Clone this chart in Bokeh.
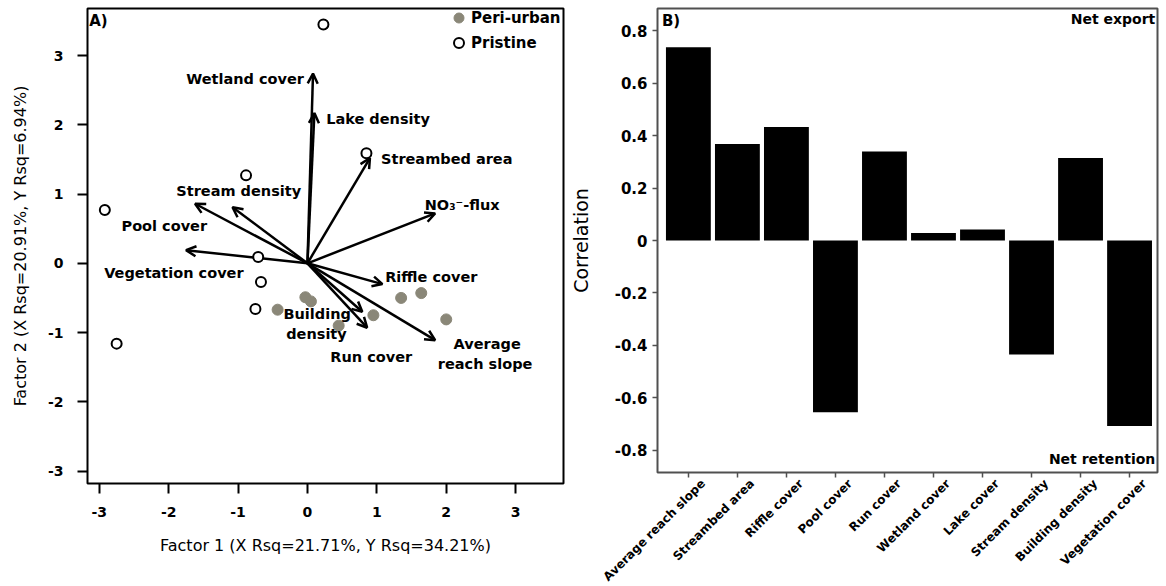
import math
from bokeh.plotting import figure
from bokeh.models import (ColumnDataSource, Arrow, OpenHead, Label, FixedTicker,
                          Range1d, Legend, LegendItem)
from bokeh.layouts import row
from bokeh.embed import file_html
from bokeh.resources import INLINE

# ---------------- Panel A data (biplot) ----------------
peri_x = [-0.43, -0.03, 0.05, 0.45, 0.95, 1.35, 1.64, 2.00]
peri_y = [-0.67, -0.49, -0.55, -0.90, -0.75, -0.50, -0.43, -0.81]
pristine_x = [0.23, 0.85, -0.885, -2.92, -0.71, -0.67, -0.75, -2.75]
pristine_y = [3.45, 1.59, 1.27, 0.77, 0.09, -0.27, -0.66, -1.16]

vector_names = ["Wetland cover", "Lake density", "Streambed area", "NO3-flux",
                "Stream density", "Pool cover", "Vegetation cover", "Riffle cover",
                "Building density", "Run cover", "Average reach slope"]
vector_x = [0.08, 0.10, 0.90, 1.84, -1.08, -1.62, -1.75, 1.08, 0.79, 0.86, 1.84]
vector_y = [2.74, 2.17, 1.52, 0.72, 0.81, 0.86, 0.19, -0.30, -0.70, -0.93, -1.11]

# text labels for the vectors
label_text = ["Wetland cover", "Lake density", "Streambed area", "NO\u2083\u207b-flux",
              "Stream density", "Pool cover", "Vegetation cover", "Riffle cover",
              "Building", "density", "Run cover", "Average", "reach slope"]
label_x = [-0.05, 0.27, 1.06, 1.69, -1.89, -2.68, -2.93, 1.12, 0.14, 0.13, 0.33, 2.59, 2.56]
label_y = [2.66, 2.09, 1.50, 0.84, 1.05, 0.54, -0.145, -0.20, -0.73, -1.02, -1.36, -1.16, -1.45]
label_align = ["right", "left", "left", "left", "left", "left", "left", "left",
               "center", "center", "left", "center", "center"]

a_ticks = [-3, -2, -1, 0, 1, 2, 3]
a_tick_labels = ["-3", "-2", "-1", "0", "1", "2", "3"]

# ---------------- Panel B data (bars) ----------------
categories = ["Average reach slope", "Streambed area", "Riffle cover", "Pool cover",
              "Run cover", "Wetland cover", "Lake cover", "Stream density",
              "Building density", "Vegetation cover"]
correlation = [0.736, 0.368, 0.432, -0.654, 0.339, 0.029, 0.042, -0.434, 0.314, -0.707]
b_ticks = [-0.8, -0.6, -0.4, -0.2, 0, 0.2, 0.4, 0.6, 0.8]
b_tick_labels = ["-0.8", "-0.6", "-0.4", "-0.2", "0", "0.2", "0.4", "0.6", "0.8"]

FONT = "DejaVu Sans"
GRAY = "#8a8778"

# ================= Panel A =================
pA = figure(width=566, height=586, frame_width=476, frame_height=475,
            x_range=Range1d(-3.17, 3.69), y_range=Range1d(-3.18, 3.68),
            output_backend="svg", toolbar_location=None,
            min_border_left=87, min_border_right=3, min_border_top=8, min_border_bottom=103)
pA.grid.visible = False
pA.outline_line_color = "black"
pA.outline_line_width = 2
pA.background_fill_color = "white"
pA.border_fill_color = "white"

for ax in (pA.xaxis[0], pA.yaxis[0]):
    ax.ticker = FixedTicker(ticks=a_ticks)
    ax.major_label_overrides = dict(zip(a_ticks, a_tick_labels))
    ax.axis_line_color = None
    ax.major_tick_in = 0
    ax.major_tick_out = 10
    ax.major_tick_line_width = 2
    ax.minor_tick_line_color = None
    ax.major_label_text_font = FONT
    ax.major_label_text_font_style = "bold"
    ax.major_label_text_font_size = "14px"
    ax.major_label_text_color = "black"
    ax.axis_label_text_font = FONT
    ax.axis_label_text_font_style = "normal"
    ax.axis_label_text_font_size = "16px"
    ax.axis_label_text_color = "black"

pA.xaxis.axis_label = "Factor 1 (X Rsq=21.71%, Y Rsq=34.21%)"
pA.yaxis.axis_label = "Factor 2 (X Rsq=20.91%, Y Rsq=6.94%)"
pA.xaxis.major_label_standoff = 13
pA.xaxis.axis_label_standoff = 16
pA.yaxis.major_label_standoff = 14
pA.yaxis.axis_label_standoff = 15

vec_src = ColumnDataSource(dict(x=vector_x, y=vector_y, name=vector_names))
arrows = Arrow(end=OpenHead(size=10, line_width=2.5, line_color="black"),
               x_start=0, y_start=0, x_end="x", y_end="y", source=vec_src,
               line_width=2.5, line_color="black", level="underlay")
pA.add_layout(arrows)

r_peri = pA.scatter(peri_x, peri_y, size=11, fill_color=GRAY, line_color=GRAY)
r_pri = pA.scatter(pristine_x, pristine_y, size=10, fill_color="white",
                   line_color="black", line_width=2)

for t, x, y, al in zip(label_text, label_x, label_y, label_align):
    pA.add_layout(Label(x=x, y=y, text=t, text_align=al, text_baseline="middle",
                        text_font=FONT, text_font_size="14.5px", text_font_style="bold",
                        text_color="black"))

pA.add_layout(Label(x=-3.145, y=3.63, text="A)", text_align="left", text_baseline="top",
                    text_font=FONT, text_font_size="15px", text_font_style="bold",
                    text_color="black"))

legend = Legend(items=[LegendItem(label="Peri-urban", renderers=[r_peri]),
                       LegendItem(label="Pristine", renderers=[r_pri])],
                location=(359, 428), orientation="vertical",
                border_line_color=None, background_fill_alpha=0,
                padding=0, margin=0, spacing=0, glyph_width=25, glyph_height=25,
                label_height=25, label_standoff=-6,
                label_text_font=FONT, label_text_font_size="15px",
                label_text_font_style="bold", label_text_color="black")
pA.add_layout(legend)

# ================= Panel B =================
bar_idx = list(range(len(categories)))
pB = figure(width=600, height=586, frame_width=500, frame_height=464,
            x_range=Range1d(-0.63, 9.57), y_range=Range1d(-0.884, 0.884),
            output_backend="svg", toolbar_location=None,
            min_border_left=91, min_border_right=9, min_border_top=8, min_border_bottom=114)
pB.grid.visible = False
pB.outline_line_color = "#505050"
pB.outline_line_width = 2
pB.background_fill_color = "white"
pB.border_fill_color = "white"

pB.vbar(x=bar_idx, top=correlation, bottom=0, width=0.915, fill_color="black", line_color=None)

ya = pB.yaxis[0]
ya.ticker = FixedTicker(ticks=b_ticks)
ya.major_label_overrides = dict(zip(b_ticks, b_tick_labels))
ya.axis_line_color = None
ya.major_tick_in = 0
ya.major_tick_out = 5
ya.major_tick_line_color = "#505050"
ya.major_tick_line_width = 1.5
ya.minor_tick_line_color = None
ya.major_label_standoff = 5
ya.major_label_text_font = FONT
ya.major_label_text_font_style = "bold"
ya.major_label_text_font_size = "15px"
ya.major_label_text_color = "black"
ya.axis_label = "Correlation"
ya.axis_label_text_font = FONT
ya.axis_label_text_font_style = "normal"
ya.axis_label_text_font_size = "19px"
ya.axis_label_text_color = "black"
ya.axis_label_standoff = 20

# labels sit slightly right of each bar; the minor ticks mark the bar centres
lab_ticks = [round(i + 0.3, 2) for i in bar_idx]
xa = pB.xaxis[0]
xa.ticker = FixedTicker(ticks=lab_ticks, minor_ticks=bar_idx)
xa.major_label_overrides = dict(zip(lab_ticks, categories))
xa.major_label_orientation = math.pi / 4
xa.axis_line_color = None
xa.major_tick_line_color = None
xa.major_tick_in = 0
xa.major_tick_out = 0
xa.minor_tick_in = 0
xa.minor_tick_out = 5
xa.minor_tick_line_color = "#505050"
xa.minor_tick_line_width = 1.5
xa.major_label_standoff = 4
xa.major_label_text_font = FONT
xa.major_label_text_font_size = "12px"
xa.major_label_text_font_style = "bold"
xa.major_label_text_color = "black"

pB.add_layout(Label(x=-0.54, y=0.87, text="B)", text_align="left", text_baseline="top",
                    text_font=FONT, text_font_size="15px", text_font_style="bold",
                    text_color="black"))
pB.add_layout(Label(x=9.525, y=0.876, text="Net export", text_align="right", text_baseline="top",
                    text_font=FONT, text_font_size="14px", text_font_style="bold",
                    text_color="black"))
pB.add_layout(Label(x=9.525, y=-0.862, text="Net retention", text_align="right",
                    text_baseline="bottom", text_font=FONT, text_font_size="14px",
                    text_font_style="bold", text_color="black"))

layout = row(pA, pB)
open("out.html", "w").write(file_html(layout, INLINE))
